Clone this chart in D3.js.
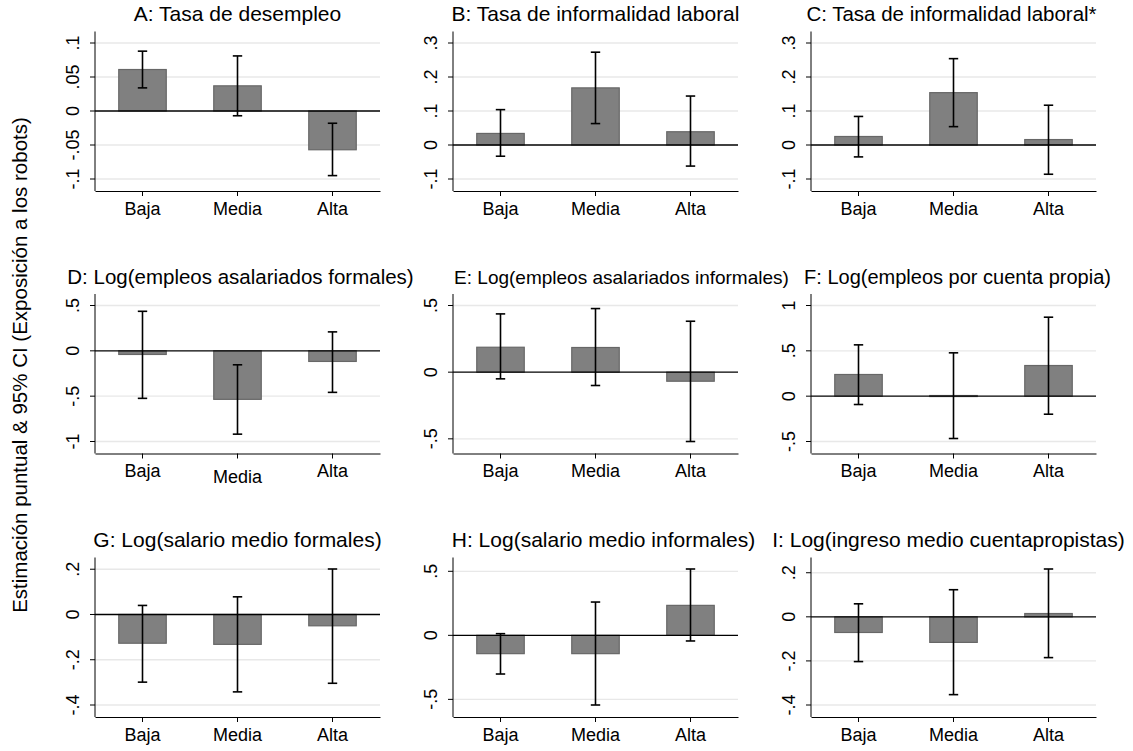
<!DOCTYPE html>
<html lang="es">
<head>
  <meta charset="UTF-8">
  <title>Estimación puntual & 95% CI</title>
  <script src="https://d3js.org/d3.v7.min.js"></script>
  <style>
    body { margin: 0; background: #fff; }
    svg { display: block; font-family: "Liberation Sans", Arial, sans-serif; }
  </style>
</head>
<body>
  <div id="chart"></div>
  <script>
    // data
    const categories = ['Baja', 'Media', 'Alta'];
    const titles = [
      'A: Tasa de desempleo',
      'B: Tasa de informalidad laboral',
      'C: Tasa de informalidad laboral*',
      'D: Log(empleos asalariados formales)',
      'E: Log(empleos asalariados informales)',
      'F: Log(empleos por cuenta propia)',
      'G: Log(salario medio formales)',
      'H: Log(salario medio informales)',
      'I: Log(ingreso medio cuentapropistas)'
    ];
    const estimates = [
      [0.061, 0.037, -0.057],
      [0.034, 0.168, 0.039],
      [0.025, 0.154, 0.016],
      [-0.04, -0.535, -0.117],
      [0.187, 0.185, -0.068],
      [0.239, 0.007, 0.338],
      [-0.127, -0.132, -0.05],
      [-0.143, -0.143, 0.234],
      [-0.071, -0.116, 0.015]
    ];
    const ciLow = [
      [0.034, -0.007, -0.095],
      [-0.033, 0.063, -0.062],
      [-0.035, 0.054, -0.086],
      [-0.524, -0.919, -0.458],
      [-0.05, -0.10, -0.52],
      [-0.092, -0.467, -0.199],
      [-0.299, -0.342, -0.304],
      [-0.302, -0.544, -0.044],
      [-0.203, -0.353, -0.185]
    ];
    const ciHigh = [
      [0.088, 0.081, -0.018],
      [0.104, 0.273, 0.144],
      [0.084, 0.254, 0.117],
      [0.436, -0.154, 0.209],
      [0.437, 0.477, 0.382],
      [0.566, 0.478, 0.871],
      [0.04, 0.078, 0.201],
      [0.013, 0.26, 0.518],
      [0.059, 0.123, 0.217]
    ];
    const yTicks = [
      [-0.1, -0.05, 0, 0.05, 0.1],
      [-0.1, 0, 0.1, 0.2, 0.3],
      [-0.1, 0, 0.1, 0.2, 0.3],
      [-1, -0.5, 0, 0.5],
      [-0.5, 0, 0.5],
      [-0.5, 0, 0.5, 1],
      [-0.4, -0.2, 0, 0.2],
      [-0.5, 0, 0.5],
      [-0.4, -0.2, 0, 0.2]
    ];
    const yTitle = 'Estimación puntual & 95% CI (Exposición a los robots)';

    const width = 1133, height = 751;
    const colX = [95, 453, 811];
    const rowBottom = [191, 453.5, 717];
    const plotW = 285, plotH = 159.5;
    // title size / horizontal nudge per panel (the original squeezes the long ones)
    const titleSize = [21, 21, 20.5, 20.5, 19, 20, 21, 21, 21];
    const titleNudge = [0, 0, -2, 3, 26, 4, 0, 8, -5];

    // Stata-style tick labels: plain hyphen, no leading zero
    const fmt = v => String(v).replace(/^(-?)0\./, '$1.');

    const svg = d3.select('#chart').append('svg')
      .attr('width', width)
      .attr('height', height);

    svg.append('text')
      .attr('transform', `translate(27,365) rotate(-90)`)
      .attr('text-anchor', 'middle')
      .attr('font-size', 20.5)
      .attr('fill', '#000')
      .text(yTitle);

    titles.forEach((title, i) => {
      const x0 = colX[i % 3];
      const bottom = rowBottom[Math.floor(i / 3)];
      const g = svg.append('g');

      const x = d3.scaleBand()
        .domain(categories)
        .range([x0, x0 + plotW])
        .paddingInner(0.5)
        .paddingOuter(0.25);

      const ext = d3.extent([...yTicks[i], ...ciLow[i], ...ciHigh[i]]);
      const y = d3.scaleLinear()
        .domain(ext)
        .range([bottom - 12, bottom - 148]);

      // grid
      g.selectAll('.grid')
        .data(yTicks[i].filter(t => t !== 0))
        .enter().append('line')
        .attr('x1', x0).attr('x2', x0 + plotW)
        .attr('y1', d => y(d)).attr('y2', d => y(d))
        .attr('stroke', '#e8e8e8')
        .attr('stroke-width', 1.3);

      const rows = categories.map((c, j) => ({
        cat: c, v: estimates[i][j], lo: ciLow[i][j], hi: ciHigh[i][j]
      }));

      // bars
      g.selectAll('.bar')
        .data(rows)
        .enter().append('rect')
        .attr('x', d => x(d.cat))
        .attr('width', x.bandwidth())
        .attr('y', d => Math.min(y(0), y(d.v)))
        .attr('height', d => Math.max(1, Math.abs(y(d.v) - y(0))))
        .attr('fill', '#808080')
        .attr('stroke', '#676767')
        .attr('stroke-width', 1.2);

      // zero line
      g.append('line')
        .attr('x1', x0).attr('x2', x0 + plotW)
        .attr('y1', y(0)).attr('y2', y(0))
        .attr('stroke', '#000')
        .attr('stroke-width', 1.4);

      // confidence intervals
      const cx = d => x(d.cat) + x.bandwidth() / 2;
      const err = g.selectAll('.err').data(rows).enter().append('g')
        .attr('stroke', '#000')
        .attr('stroke-width', 1.6);
      err.append('line')
        .attr('x1', cx).attr('x2', cx)
        .attr('y1', d => y(d.lo)).attr('y2', d => y(d.hi));
      err.append('line')
        .attr('x1', d => cx(d) - 4.7).attr('x2', d => cx(d) + 4.7)
        .attr('y1', d => y(d.hi)).attr('y2', d => y(d.hi));
      err.append('line')
        .attr('x1', d => cx(d) - 4.7).attr('x2', d => cx(d) + 4.7)
        .attr('y1', d => y(d.lo)).attr('y2', d => y(d.lo));

      // y axis
      g.append('line')
        .attr('x1', x0).attr('x2', x0)
        .attr('y1', bottom).attr('y2', bottom - plotH)
        .attr('stroke', '#000');
      g.selectAll('.ytick')
        .data(yTicks[i])
        .enter().append('line')
        .attr('x1', x0 - 5).attr('x2', x0)
        .attr('y1', d => y(d)).attr('y2', d => y(d))
        .attr('stroke', '#000');
      g.selectAll('.ylab')
        .data(yTicks[i])
        .enter().append('text')
        .attr('transform', d => `translate(${x0 - 16.5},${y(d)}) rotate(-90)`)
        .attr('text-anchor', 'middle')
        .attr('font-size', 18)
        .text(fmt);

      // x axis
      const xAxis = d3.axisBottom(x).tickSize(5).tickSizeOuter(0).tickPadding(6);
      const ax = g.append('g')
        .attr('transform', `translate(0,${bottom})`)
        .call(xAxis);
      ax.select('.domain').attr('stroke', '#000');
      ax.selectAll('.tick line').attr('stroke', '#000');
      ax.selectAll('.tick text')
        .attr('font-size', 18)
        .attr('font-family', null)
        .attr('fill', '#000');
      // panel D prints its middle label a little lower in the original
      if (i === 3) ax.selectAll('.tick text').filter(d => d === 'Media').attr('y', 17);

      // title
      g.append('text')
        .attr('x', x0 + plotW / 2 + titleNudge[i])
        .attr('y', bottom - 170)
        .attr('text-anchor', 'middle')
        .attr('font-size', titleSize[i])
        .text(title);
    });
  </script>
</body>
</html>
